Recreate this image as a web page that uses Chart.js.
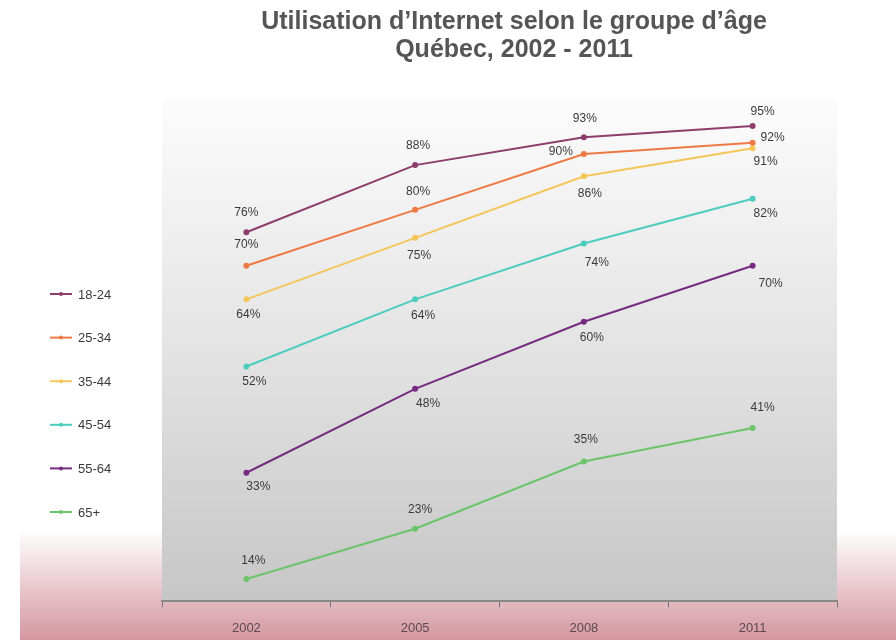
<!DOCTYPE html>
<html>
<head>
<meta charset="utf-8">
<script src="https://cdn.jsdelivr.net/npm/chart.js@4.4.1/dist/chart.umd.min.js"></script>
<style>
  html, body { margin: 0; padding: 0; background: #fff; }
  #wrap { width: 896px; height: 640px; position: relative; }
</style>
</head>
<body>
<div id="wrap"><canvas id="chart" width="896" height="640"></canvas></div>
<script>
const years = ['2002', '2005', '2008', '2011'];

const ages18_24 = [76, 88, 93, 95];
const ages25_34 = [70, 80, 90, 92];
const ages35_44 = [64, 75, 86, 91];
const ages45_54 = [52, 64, 74, 82];
const ages55_64 = [33, 48, 60, 70];
const ages65plus = [14, 23, 35, 41];

const groupNames = ['18-24', '25-34', '35-44', '45-54', '55-64', '65+'];

const titleLines = ["Utilisation d’Internet selon le groupe d’âge", 'Québec, 2002 - 2011'];

// where each value label sits relative to its point [dx, dy]
const labelOffsets = [
	[[0, -20], [3, -19], [1, -18], [10, -14]],
	[[0, -21], [3, -18], [-23, -2], [20, -5]],
	[[2, 15], [4, 18], [6, 17], [13, 13]],
	[[8, 15], [8, 16], [13, 19], [13, 15]],
	[[12, 14], [13, 15], [8, 16], [18, 18]],
	[[7, -18], [5, -19], [2, -22], [10, -20]]
];

const colors = ['#8d3e6c', '#ef7944', '#f5c65a', '#4dcdbf', '#772c82', '#6cc46b'];

function makeSet(i, values) {
	return {
		label: groupNames[i],
		data: values,
		borderColor: colors[i],
		backgroundColor: colors[i],
		borderWidth: 2,
		pointRadius: 2,
		pointHoverRadius: 2,
		tension: 0
	};
}

// backgrounds: white page with a rosy band at the bottom, grey gradient inside the plot
const backdrop = {
	id: 'backdrop',
	beforeDraw(chart) {
		const c = chart.ctx;
		const a = chart.chartArea;
		c.save();
		c.fillStyle = '#ffffff';
		c.fillRect(0, 0, chart.width, chart.height);
		let band = c.createLinearGradient(0, 530, 0, chart.height);
		band.addColorStop(0, 'rgba(212,150,160,0)');
		band.addColorStop(1, 'rgba(212,150,160,1)');
		c.fillStyle = band;
		c.fillRect(20, 530, chart.width - 20, chart.height - 530);
		let g = c.createLinearGradient(0, a.top, 0, a.bottom);
		g.addColorStop(0, '#fcfcfc');
		g.addColorStop(0.45, '#e6e6e6');
		g.addColorStop(1, '#c6c6c6');
		c.fillStyle = g;
		c.fillRect(a.left, a.top, a.right - a.left, a.bottom - a.top);
		c.restore();
	}
};

const labelsAndLegend = {
	id: 'labelsAndLegend',
	afterDraw(chart) {
		const c = chart.ctx;
		c.save();
		// title
		c.fillStyle = '#555555';
		c.font = 'bold 25px "Liberation Sans", Arial, sans-serif';
		c.textAlign = 'center';
		c.textBaseline = 'middle';
		c.fillText(titleLines[0], 514, 22);
		c.fillText(titleLines[1], 514, 50);

		// value labels
		c.font = '12px "Liberation Sans", Arial, sans-serif';
		c.fillStyle = '#3a3a3a';
		chart.data.datasets.forEach((ds, i) => {
			const meta = chart.getDatasetMeta(i);
			meta.data.forEach((pt, j) => {
				const off = labelOffsets[i][j];
				c.fillText(ds.data[j] + '%', pt.x + off[0], pt.y + off[1]);
			});
		});

		// legend on the left
		c.textAlign = 'left';
		c.font = '13px "Liberation Sans", Arial, sans-serif';
		chart.data.datasets.forEach((ds, i) => {
			const y = 294 + i * 43.6;
			c.strokeStyle = ds.borderColor;
			c.lineWidth = 2;
			c.beginPath();
			c.moveTo(50, y);
			c.lineTo(72, y);
			c.stroke();
			c.fillStyle = ds.borderColor;
			c.beginPath();
			c.arc(61, y, 2, 0, Math.PI * 2);
			c.fill();
			c.fillStyle = '#3a3a3a';
			c.fillText(ds.label, 78, y + 1);
		});
		c.restore();
	}
};

new Chart(document.getElementById('chart'), {
	type: 'line',
	data: {
		labels: years,
		datasets: [
			makeSet(0, ages18_24),
			makeSet(1, ages25_34),
			makeSet(2, ages35_44),
			makeSet(3, ages45_54),
			makeSet(4, ages55_64),
			makeSet(5, ages65plus)
		]
	},
	options: {
		responsive: false,
		animation: false,
		layout: {
			padding: { left: 162, right: 59, top: 98, bottom: -9 }
		},
		scales: {
			x: {
				offset: true,
				grid: {
					offset: true,
					drawOnChartArea: false,
					drawTicks: true,
					tickLength: 6,
					color: '#777777',
					lineWidth: 1
				},
				border: { display: true, color: '#888888', width: 2 },
				ticks: {
					color: '#5a4b4d',
					padding: 13,
					font: { family: '"Liberation Sans", Arial, sans-serif', size: 13 }
				}
			},
			y: {
				display: false,
				min: 10,
				max: 100
			}
		},
		plugins: {
			legend: { display: false },
			title: { display: false },
			tooltip: { enabled: false }
		}
	},
	plugins: [backdrop, labelsAndLegend]
});
</script>
</body>
</html>
